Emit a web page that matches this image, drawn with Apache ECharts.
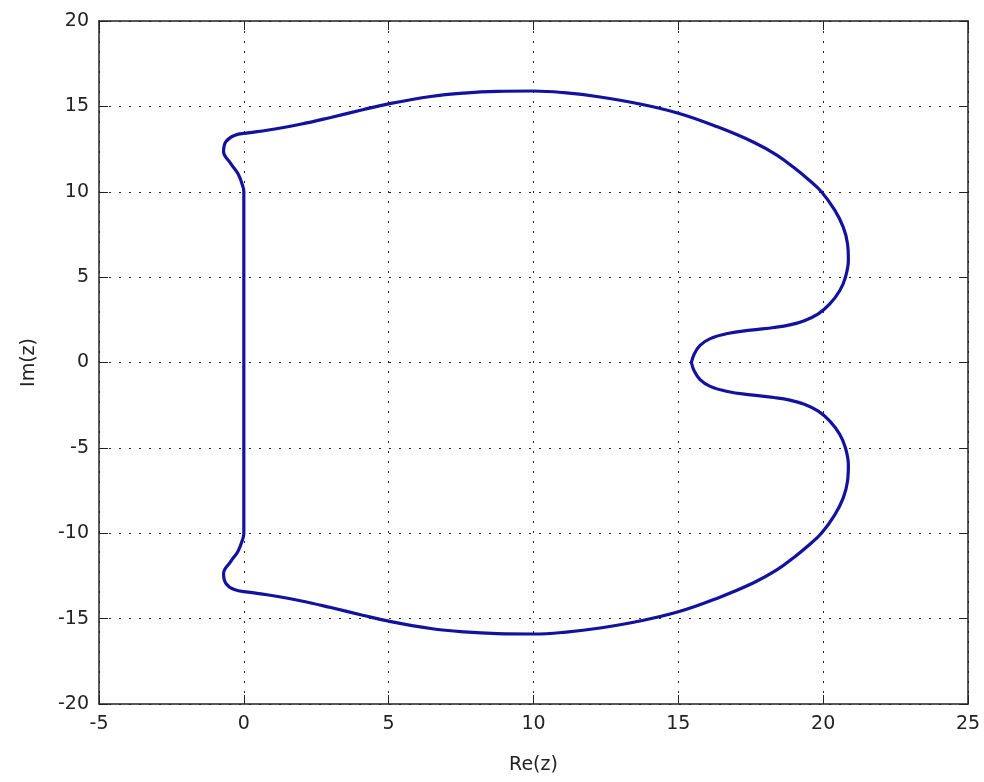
<!DOCTYPE html>
<html>
<head>
<meta charset="utf-8">
<script src="https://cdn.jsdelivr.net/npm/echarts@6/dist/echarts.min.js"></script>
<style>html,body{margin:0;padding:0;background:#fff;}#c{width:984px;height:782px;}</style>
</head>
<body>
<div id="c"></div>
<script>
// Boundary curve points (Re, Im), traced around the closed contour
const reZ = [15.45, 15.55, 15.75, 16.1, 16.7, 17.5, 18.3, 18.85, 19.35, 19.83, 20.23, 20.57, 20.77, 20.87, 20.84, 20.69, 20.4, 19.94, 19.5, 19.0, 18.4, 17.6, 16.35, 15.0, 13.5, 12.3, 11.05, 10.0, 8.75, 7.6, 6.45, 5.0, 4.1, 3.0, 1.95, 0.8, 0.15, -0.33, -0.62, -0.7, -0.45, -0.2, -0.03, 0.0, 0.0, 0.0,
  0.0, 0.0, -0.03, -0.2, -0.45, -0.7, -0.62, -0.33, 0.15, 0.8, 1.95, 3.0, 4.1, 5.0, 6.45, 7.6, 8.75, 10.0, 11.05, 12.3, 13.5, 15.0, 16.35, 17.6, 18.4, 19.0, 19.5, 19.94, 20.4, 20.69, 20.84, 20.87, 20.77, 20.57, 20.23, 19.83, 19.35, 18.85, 18.3, 17.5, 16.7, 16.1, 15.75, 15.55, 15.45];
const imZ = [0.0, 0.5, 1.0, 1.4, 1.7, 1.9, 2.05, 2.2, 2.45, 2.85, 3.43, 4.2, 5.0, 6.0, 6.96, 7.94, 8.92, 10.0, 10.7, 11.4, 12.15, 12.9, 13.8, 14.6, 15.2, 15.55, 15.8, 15.9, 15.88, 15.78, 15.58, 15.15, 14.8, 14.35, 13.95, 13.6, 13.45, 13.3, 12.93, 12.35, 11.65, 11.05, 10.3, 10.0, 5.0, 0.0,
  -5.0, -10.0, -10.3, -11.05, -11.65, -12.35, -12.93, -13.3, -13.45, -13.6, -13.95, -14.35, -14.8, -15.15, -15.58, -15.78, -15.88, -15.9, -15.8, -15.55, -15.2, -14.6, -13.8, -12.9, -12.15, -11.4, -10.7, -10.0, -8.92, -7.94, -6.96, -6.0, -5.0, -4.2, -3.43, -2.85, -2.45, -2.2, -2.05, -1.9, -1.7, -1.4, -1.0, -0.5, 0.0];
const xTicks = [-5, 0, 5, 10, 15, 20, 25];
const yTicks = [-20, -15, -10, -5, 0, 5, 10, 15, 20];

const pts = reZ.map((x, i) => [x, imZ[i]]);
const font = 'DejaVu Sans, Liberation Sans, sans-serif';
const tickCommon = {show: true, inside: true, length: 9, lineStyle: {color: '#222', width: 1}};
const lineCommon = {show: true, onZero: false, lineStyle: {color: '#222', width: 1.5}};
const splitCommon = {show: true, lineStyle: {color: '#222', type: [2, 8], width: 1}};

const chart = echarts.init(document.getElementById('c'));
chart.setOption({
  backgroundColor: '#fff',
  animation: false,
  grid: {left: 99, right: 16, top: 21, bottom: 78},
  xAxis: [{
    type: 'value', min: xTicks[0], max: xTicks[xTicks.length - 1], interval: 5,
    name: 'Re(z)', nameLocation: 'middle', nameGap: 52,
    nameTextStyle: {fontFamily: font, fontSize: 19, color: '#222'},
    axisLine: lineCommon, axisTick: tickCommon, splitLine: splitCommon,
    axisLabel: {fontFamily: font, fontSize: 19, color: '#222', margin: 11}
  }, {
    type: 'value', position: 'top', min: xTicks[0], max: xTicks[xTicks.length - 1], interval: 5,
    axisLine: lineCommon, axisTick: tickCommon, splitLine: {show: false}, axisLabel: {show: false}
  }],
  yAxis: [{
    type: 'value', min: yTicks[0], max: yTicks[yTicks.length - 1], interval: 5,
    name: 'Im(z)', nameLocation: 'middle', nameGap: 60, nameRotate: 90,
    nameTextStyle: {fontFamily: font, fontSize: 19, color: '#222'},
    axisLine: lineCommon, axisTick: tickCommon, splitLine: splitCommon,
    axisLabel: {fontFamily: font, fontSize: 19, color: '#222', margin: 10}
  }, {
    type: 'value', position: 'right', min: yTicks[0], max: yTicks[yTicks.length - 1], interval: 5,
    axisLine: lineCommon, axisTick: tickCommon, splitLine: {show: false}, axisLabel: {show: false}
  }],
  series: [{
    type: 'line', data: pts, showSymbol: false, smooth: 0.4,
    xAxisIndex: 0, yAxisIndex: 0,
    lineStyle: {color: '#12129f', width: 3.2}
  }]
});
</script>
</body>
</html>
